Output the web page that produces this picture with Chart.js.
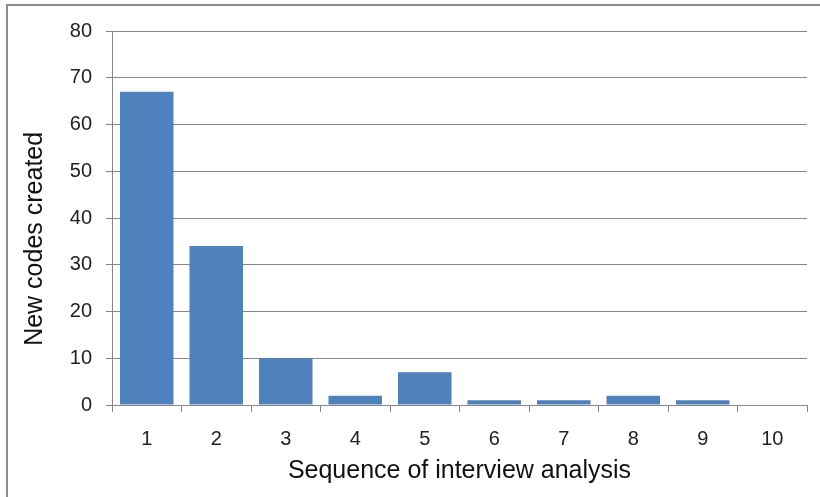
<!DOCTYPE html>
<html>
<head>
<meta charset="utf-8">
<script src="https://cdn.jsdelivr.net/npm/chart.js@4"></script>
<style>
  body { margin: 0; background: #fff; }
  #wrap { position: relative; width: 820px; height: 497px; overflow: hidden; }
  #frame { position: absolute; left: 6px; top: 4px; width: 830px; height: 510px;
           border-left: 2px solid #8e8e8e; border-top: 2px solid #8e8e8e; pointer-events: none; }
  canvas { position: absolute; left: 0; top: 0; }
</style>
</head>
<body>
<div id="wrap">
  <canvas id="diagram" width="820" height="497"></canvas>
  <div id="frame"></div>
</div>
<script>
// kategorier och värden
const sequence = ["1", "2", "3", "4", "5", "6", "7", "8", "9", "10"];
const newCodes = [67, 34, 10, 2, 7, 1, 1, 2, 1, 0];
const yTicks = [0, 10, 20, 30, 40, 50, 60, 70, 80];

const font = "'Liberation Sans', Arial, sans-serif";
const gridColor = "#878787";

const data = {
  labels: sequence,
  datasets: [
    {
      label: "New codes created",
      data: newCodes,
      backgroundColor: "#4f81bd",
      borderWidth: 0,
      categoryPercentage: 1,
      barPercentage: 0.77,
    },
  ],
};

const config = {
  type: "bar",
  data: data,
  options: {
    responsive: false,
    animation: false,
    layout: { padding: { left: 8, top: 31, right: 13, bottom: 0 } },
    plugins: { legend: { display: false }, tooltip: { enabled: false } },
    scales: {
      x: {
        afterFit: (scale) => { scale.height = 92; },
        grid: { drawOnChartArea: false, drawTicks: true, tickLength: 7, color: gridColor, offset: true },
        border: { color: gridColor },
        ticks: { color: "#222", font: { family: font, size: 20 }, padding: 15 },
        title: {
          display: true,
          text: "Sequence of interview analysis",
          color: "#111",
          font: { family: font, size: 25 },
          padding: { top: 4, bottom: 11 },
        },
      },
      y: {
        min: 0,
        max: 80,
        afterFit: (scale) => { scale.width = 104; },
        afterBuildTicks: (scale) => { scale.ticks = yTicks.map((v) => ({ value: v })); },
        grid: { color: gridColor, tickLength: 6 },
        border: { color: gridColor },
        ticks: { color: "#222", font: { family: font, size: 20 }, padding: 14 },
        title: {
          display: true,
          // mellanslag i slutet flyttar titeln lite nedåt som i originalet
          text: "New codes created      ",
          color: "#111",
          font: { family: font, size: 25 },
          padding: { top: 12, bottom: 0 },
        },
      },
    },
  },
};

const canvas = document.getElementById("diagram");
const chart = new Chart(canvas, config);
</script>
</body>
</html>
